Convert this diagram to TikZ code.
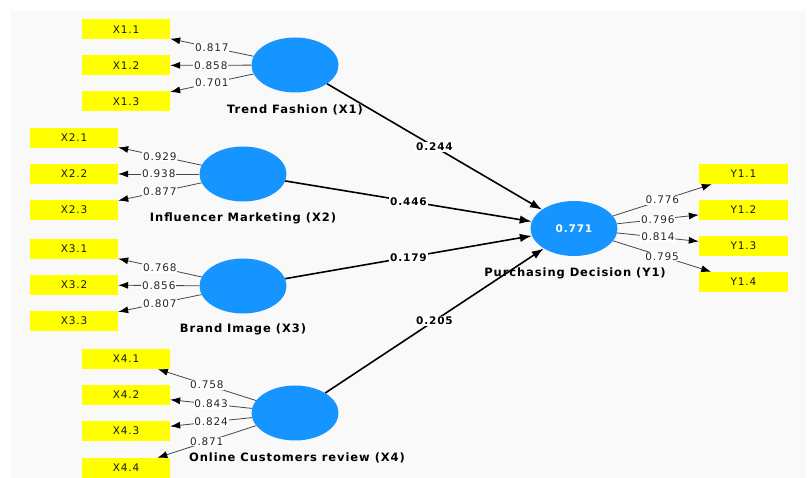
\documentclass[tikz,border=0pt]{standalone}
\usepackage{fontspec}
\setmainfont{DejaVu Sans}[LetterSpace=8]
\usetikzlibrary{arrows.meta,shapes.geometric}
\definecolor{lvblue}{RGB}{22,148,255}
\definecolor{panelbg}{RGB}{249,249,249}
\definecolor{loadgray}{RGB}{70,70,70}
\definecolor{indyellow}{RGB}{255,255,0}
\tikzset{
  ind/.style={fill=indyellow, minimum width=88pt, minimum height=20pt, inner sep=0pt, text=black!90, font=\fontsize{10.5}{12}\selectfont},
  lv/.style={ellipse, fill=lvblue, minimum width=87pt, minimum height=55pt, inner sep=0pt},
  lvname/.style={font=\bfseries\fontsize{11.5}{13}\selectfont, text=black},
  loadline/.style={draw=loadgray, line width=0.8pt, -{Latex[length=10pt,width=7pt,black]}},
  loadlab/.style={fill=white, inner sep=0.8pt, text=black!85, font=\fontsize{10.5}{12}\selectfont},
  pathline/.style={draw=black, line width=1.6pt, -{Latex[length=12pt,width=8.5pt]}},
  coef/.style={fill=white, inner sep=1pt, text=black, font=\bfseries\fontsize{10.5}{12}\selectfont}
}
\begin{document}
\begin{tikzpicture}[x=1pt,y=-1pt]
\useasboundingbox (0,0) rectangle (807,478);
\fill[panelbg] (11,11) rectangle (806,478);
% indicators
\node[ind] (X11) at (126,29.5) {X1.1};
\node[ind] (X12) at (126,65.5) {X1.2};
\node[ind] (X13) at (126,101.5) {X1.3};
\node[ind] (X21) at (74,138) {X2.1};
\node[ind] (X22) at (74,174) {X2.2};
\node[ind] (X23) at (74,210) {X2.3};
\node[ind] (X31) at (74,249) {X3.1};
\node[ind] (X32) at (74,285) {X3.2};
\node[ind] (X33) at (74,321) {X3.3};
\node[ind] (X41) at (126,359) {X4.1};
\node[ind] (X42) at (126,395) {X4.2};
\node[ind] (X43) at (126,431) {X4.3};
\node[ind] (X44) at (126,468) {X4.4};
\node[ind, minimum width=89pt] (Y11) at (743.5,174) {Y1.1};
\node[ind, minimum width=89pt] (Y12) at (743.5,210) {Y1.2};
\node[ind, minimum width=89pt] (Y13) at (743.5,246) {Y1.3};
\node[ind, minimum width=89pt] (Y14) at (743.5,282) {Y1.4};
% latent variables
\node[lv] (TF) at (295,65) {};
\node[lv] (IM) at (243,174) {};
\node[lv] (BI) at (243,286) {};
\node[lv] (OCR) at (295,413) {};
\node[lv, text=white, font=\bfseries\fontsize{10.5}{12}\selectfont] (PD) at (574,228.5) {0.771};
% outer loadings
\draw[loadline] (TF) -- node[loadlab]{0.817} (X11);
\draw[loadline] (TF) -- node[loadlab]{0.858} (X12);
\draw[loadline] (TF) -- node[loadlab]{0.701} (X13);
\draw[loadline] (IM) -- node[loadlab]{0.929} (X21);
\draw[loadline] (IM) -- node[loadlab]{0.938} (X22);
\draw[loadline] (IM) -- node[loadlab]{0.877} (X23);
\draw[loadline] (BI) -- node[loadlab]{0.768} (X31);
\draw[loadline] (BI) -- node[loadlab]{0.856} (X32);
\draw[loadline] (BI) -- node[loadlab]{0.807} (X33);
\draw[loadline] (OCR) -- node[loadlab]{0.758} (X41);
\draw[loadline] (OCR) -- node[loadlab]{0.843} (X42);
\draw[loadline] (OCR) -- node[loadlab]{0.824} (X43);
\draw[loadline] (OCR) -- node[loadlab]{0.871} (X44);
\draw[loadline] (PD) -- node[loadlab]{0.776} (Y11);
\draw[loadline] (PD) -- node[loadlab]{0.796} (Y12);
\draw[loadline] (PD) -- node[loadlab]{0.814} (Y13);
\draw[loadline] (PD) -- node[loadlab]{0.795} (Y14);
% path coefficients
\draw[pathline] (TF) -- node[coef]{0.244} (PD);
\draw[pathline] (IM) -- node[coef]{0.446} (PD);
\draw[pathline] (BI) -- node[coef]{0.179} (PD);
\draw[pathline] (OCR) -- node[coef]{0.205} (PD);
% construct names
\node[lvname] (TFn) at (295,110) {Trend Fashion (X1)};
\node[lvname] (IMn) at (243,218) {Influencer Marketing (X2)};
\node[lvname] (BIn) at (243,329) {Brand Image (X3)};
\node[lvname] (OCRn) at (297,458) {Online Customers review (X4)};
\node[lvname] (PDn) at (575,273) {Purchasing Decision (Y1)};
\end{tikzpicture}
\end{document}
